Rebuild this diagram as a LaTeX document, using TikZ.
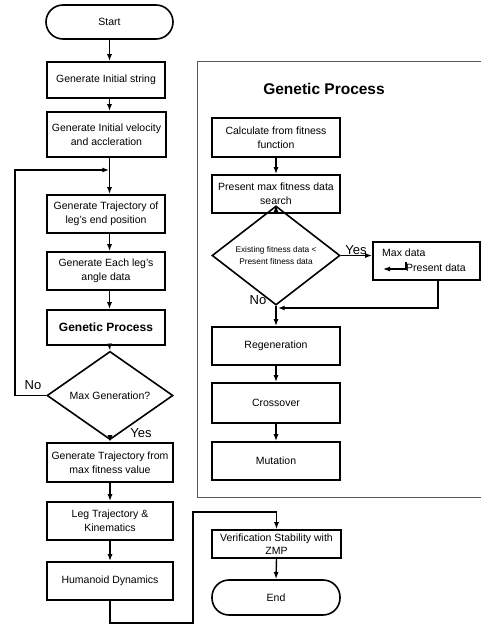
\documentclass[tikz,border=0pt]{standalone}
\usepackage{fontspec}
\setmainfont{Liberation Sans}
\usetikzlibrary{shapes.geometric,arrows.meta,calc}
\begin{document}
\begin{tikzpicture}[x=1pt,y=-1pt,
  box/.style={draw,line width=1.6pt,inner sep=1pt,align=center,
    font=\fontsize{10.5}{14}\selectfont},
  term/.style={box,rounded corners=17pt},
  dia/.style={draw,diamond,line width=1.6pt,inner sep=0pt,align=center,
    font=\fontsize{10.5}{14}\selectfont},
  arr/.style={line width=1.4pt,-{Latex[length=7pt,width=5pt]}},
  lbl/.style={font=\fontsize{13}{15}\selectfont,inner sep=0pt},
  frame/.style={draw=black!65,line width=0.7pt}]
\useasboundingbox (0,0) rectangle (481,626);
% left column
\node[term,minimum width=127pt,minimum height=34pt] (start) at (109.5,22) {Start};
\node[box,minimum width=118pt,minimum height=36pt] (init) at (106,80) {Generate Initial string};
\node[box,minimum width=119pt,minimum height=45pt] (vel) at (106.5,134.5) {Generate Initial velocity\\and accleration};
\node[box,minimum width=118pt,minimum height=38pt] (traj) at (106,214) {Generate Trajectory of\\leg's end position};
\node[box,minimum width=118pt,minimum height=38pt] (angle) at (106,271) {Generate Each leg's\\angle data};
\node[box,minimum width=118pt,minimum height=35pt,font=\fontsize{12}{14}\selectfont\bfseries] (gp) at (106,327.5) {Genetic Process};
\node[dia,minimum width=126pt,minimum height=55pt] (maxgen) at (110,395.5) {Max Generation?};
\node[box,minimum width=126pt,minimum height=39pt] (fromfit) at (110,462.5) {Generate Trajectory from\\max fitness value};
\node[box,minimum width=126pt,minimum height=38pt] (legtraj) at (110,521) {Leg Trajectory \&\\Kinematics};
\node[box,minimum width=126pt,minimum height=38pt] (hum) at (110,581) {Humanoid Dynamics};
\node[lbl] (no1) at (33,385) {No};
\node[lbl] (yes1) at (141,433) {Yes};
\coordinate (fb1) at (15,170);
\coordinate (fbj) at (110,170);
\coordinate (b1) at (193,623);
\coordinate (b2) at (193,512);
\draw[arr] (start.south) -- (init.north -| start.south);
\draw[arr] (init.south -| start.south) -- (vel.north -| start.south);
\draw[arr] (vel.south -| start.south) -- (traj.north -| start.south);
\draw[arr] (traj.south -| start.south) -- (angle.north -| start.south);
\draw[arr] (angle.south -| start.south) -- (gp.north -| start.south);
\draw[arr] (gp.south -| start.south) -- (maxgen.north);
\draw[arr,shorten >=0.7pt] (maxgen.west) -| (fb1) -- (fbj);
\draw[arr] (maxgen.south) -- (fromfit.north);
\draw[arr] (fromfit.south) -- (legtraj.north);
\draw[arr] (legtraj.south) -- (hum.north);
% genetic process frame
\draw[frame] (481,61) -| (197,497) -- (481,497);
\node[font=\fontsize{15.5}{18}\selectfont\bfseries,inner sep=0pt] (title) at (324,89) {Genetic Process};
\node[box,minimum width=128pt,minimum height=39pt] (calc) at (276,137.5) {Calculate from fitness\\function};
\node[box,minimum width=128pt,minimum height=38pt] (pres) at (276,194) {Present max fitness data\\search};
\node[dia,minimum width=128pt,minimum height=65pt,font=\fontsize{8.3}{12}\selectfont] (exist) at (276,255.5) {Existing fitness data <\\Present fitness data};
\node[box,minimum width=107pt,minimum height=38pt] (maxd) at (426.5,261) {};
\node[inner sep=0pt,font=\fontsize{10.5}{12}\selectfont,anchor=west] (mdtxt) at (382,253) {Max data};
\node[inner sep=0pt,font=\fontsize{10.5}{12}\selectfont,anchor=west] (pdtxt) at (406,268) {Present data};
\node[lbl] (yes2) at (356,250) {Yes};
\node[lbl] (no2) at (258,300) {No};
\node[box,minimum width=128pt,minimum height=38pt] (regen) at (276,346) {Regeneration};
\node[box,minimum width=128pt,minimum height=40pt] (cross) at (276,403) {Crossover};
\node[box,minimum width=128pt,minimum height=38pt] (mut) at (276,461) {Mutation};
\coordinate (mrg) at (277,308);
\draw[arr] (calc.south) -- (pres.north);
\draw[arr] (pres.south) -- (exist.north);
\draw[arr] (exist.east) -- (exist.east -| maxd.west);
\draw[line width=1.2pt,-{Latex[length=7pt,width=5pt]}] ($(pdtxt.west)+(0,-6)$) |- ++(-23,7);
\draw[arr,shorten >=0.7pt] ([xshift=11.5pt]maxd.south) |- (mrg);
\draw[arr] (exist.south) -- (regen.north);
\draw[arr] (regen.south) -- (cross.north);
\draw[arr] (cross.south) -- (mut.north);
% final part
\node[box,minimum width=129pt,minimum height=28pt,font=\fontsize{10.5}{13}\selectfont] (verif) at (276.5,544) {Verification Stability with\\ZMP};
\node[term,minimum width=128pt,minimum height=35pt] (end) at (276,597.5) {End};
\draw[arr] (hum.south) |- (b1) -- (b2) -| (verif.north);
\draw[arr] (verif.south) -- (end.north);
\end{tikzpicture}
\end{document}
